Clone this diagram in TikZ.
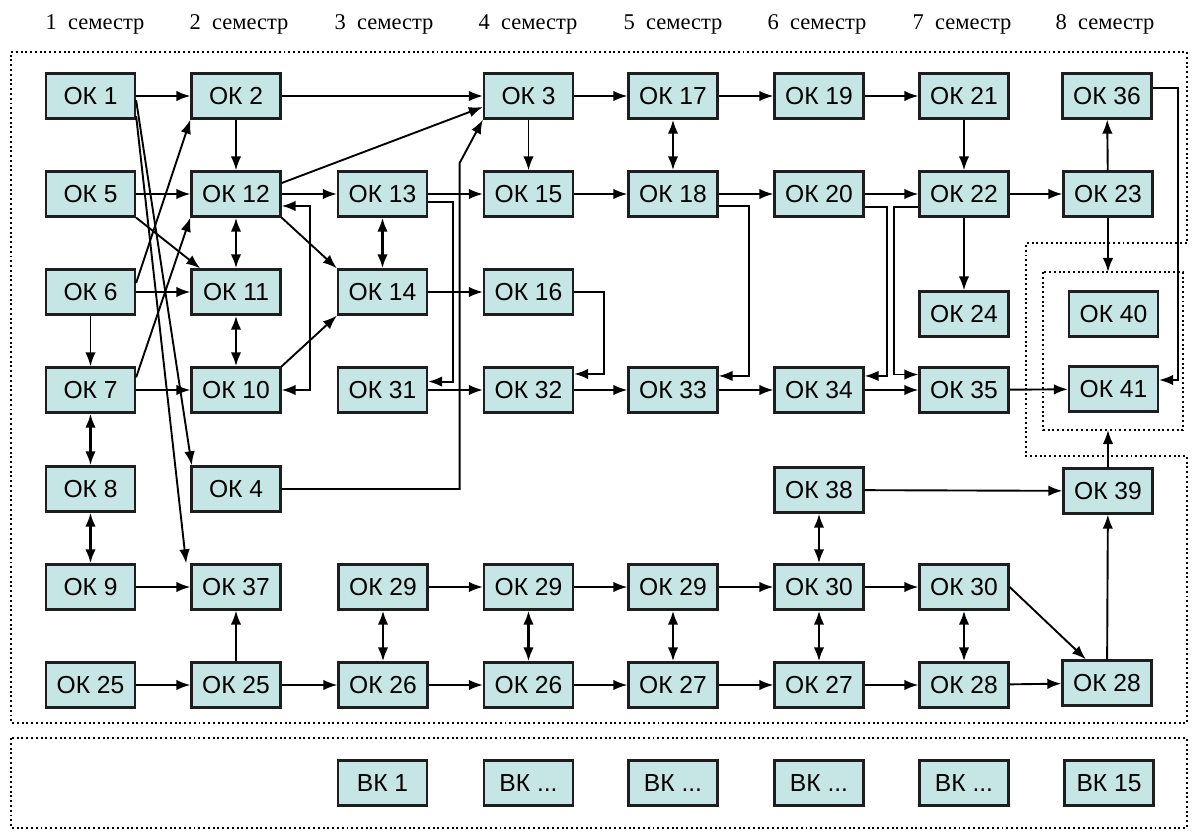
\documentclass[tikz,border=0pt]{standalone}
\usepackage{fontspec}
\setmainfont{Liberation Serif}
\newfontfamily\boxfont{Liberation Sans}
\usetikzlibrary{arrows.meta}
\definecolor{okfill}{RGB}{198,229,229}
\definecolor{okline}{RGB}{30,30,30}
\newcommand\vkdots{...}

\begin{document}
\begin{tikzpicture}
[x=0.025cm,y=-0.025cm,%
  >={Latex[length=10pt,width=7.5pt]},%
  box/.style={draw=okline,fill=okfill,line width=1.6pt,inner sep=0pt,
    minimum width=2.225cm,minimum height=1.125cm,
    font=\boxfont\fontsize{17.5}{19}\selectfont},%
  link/.style={->,line width=1.35pt},%
  both/.style={<->,line width=1.8pt},%
  dotframe/.style={line width=1.4pt,dash pattern=on 1.4pt off 2pt}]
\useasboundingbox (0,0) rectangle (1192,835);
\foreach \i/\x in {1/95,2/239,3/384,4/528,5/673,6/817,7/962,8/1105}
  \node[anchor=base,font=\fontsize{16}{18}\selectfont] (sem\i) at (\x,29) {\i\hspace{0.5em}семестр};
\draw[dotframe] (11,52) -- (1187,52) -- (1187,243) -- (1026,243) -- (1026,456)
  -- (1187,456) -- (1187,723) -- (11,723) -- cycle;
\draw[dotframe] (1043,272) coordinate (fnw) rectangle (1183,430) coordinate (fse);
\draw[dotframe] (11,738) rectangle (1187,828);
\foreach \name/\lab/\x/\y in {ok1/1/90.5/96, ok2/2/236/96, ok3/3/528.5/96,
    ok17/17/673/96, ok19/19/819/96, ok21/21/964/96, ok36/36/1107/96,
    ok5/5/90.5/194, ok12/12/236/194, ok13/13/382.5/194, ok15/15/528.5/194,
    ok18/18/673/194, ok20/20/819/194, ok22/22/964/194, ok23/23/1108/194,
    ok6/6/90.5/292, ok11/11/236/292, ok14/14/382.5/292, ok16/16/528.5/292,
    ok24/24/964/314, ok40/40/1113.5/314,
    ok7/7/90.5/390, ok10/10/236/390, ok31/31/382.5/390, ok32/32/528.5/390,
    ok33/33/673/390, ok34/34/819/390, ok35/35/964/390, ok41/41/1113.5/389,
    ok8/8/90.5/489, ok4/4/236/489, ok38/38/819/490, ok39/39/1108/491,
    ok9/9/90.5/587, ok37/37/236/587, ok29a/29/383/587, ok29b/29/528.5/587,
    ok29c/29/673/587, ok30a/30/819/587, ok30b/30/964/587,
    ok25a/25/90.5/685, ok25b/25/236/685, ok26a/26/383/685, ok26b/26/528.5/685,
    ok27a/27/673/685, ok27b/27/819/685, ok28a/28/964/685, ok28b/28/1107/683}
  \node[box] (\name) at (\x,\y) {ОК \lab};
\foreach \name/\lab/\x in {vk1/1/382.5, vk2/\vkdots/528.5, vk3/\vkdots/673,
    vk4/\vkdots/819, vk5/\vkdots/964, vk15/15/1109}
  \node[box] (\name) at (\x,783) {ВК \lab};
\foreach \a/\b in {ok1/ok2, ok2/ok3, ok3/ok17, ok17/ok19, ok19/ok21, ok2/ok12,
    ok3/ok15, ok21/ok22, ok23/ok36, ok5/ok12, ok12/ok13, ok13/ok15, ok15/ok18,
    ok18/ok20, ok20/ok22, ok22/ok23, ok6/ok11, ok6/ok7, ok14/ok16, ok22/ok24,
    ok7/ok10, ok31/ok32, ok32/ok33, ok33/ok34, ok34/ok35, ok35/ok41, ok38/ok39,
    ok9/ok37, ok25b/ok37, ok29a/ok29b, ok29b/ok29c, ok29c/ok30a, ok30a/ok30b,
    ok28b/ok39, ok25a/ok25b, ok25b/ok26a, ok26a/ok26b, ok26b/ok27a,
    ok27a/ok27b, ok27b/ok28a, ok28a/ok28b}
  \draw[link] (\a) -- (\b);
\foreach \a/\b in {ok17/ok18, ok12/ok11, ok11/ok10, ok13/ok14, ok7/ok8, ok8/ok9,
    ok38/ok30a, ok29a/ok26a, ok29b/ok26b, ok29c/ok27a, ok30a/ok27b, ok30b/ok28a}
  \draw[both] (\a) -- (\b);
\draw[link] ([yshift=5.7pt]ok36.east) -- ++(25,0) |- ([yshift=6.4pt]ok41.east);
\draw[link] ([yshift=7.8pt]ok12.east) -- ([yshift=-7.8pt]ok3.west);
\draw[link] (ok12.south east) -- (ok14.north west);
\draw[link] (ok10.north east) -- (ok14.south west);
\draw[link,<->] ([yshift=-8.5pt]ok12.east) -- ++(28,0) |- (ok10.east);
\draw[link] ([yshift=-5.7pt]ok13.east) -- ++(25,0) |- ([yshift=6pt]ok31.east);
\draw[link] (ok4.east) -- ++(178,0) -- ++(0,-326) -- (ok3.south west);
\draw[link] ([yshift=6.4pt]ok6.east) -- (ok2.south west);
\draw[link] ([yshift=9pt]ok7.east) -- (ok12.south west);
\draw[link] (ok5.south east) -- ([xshift=7pt]ok11.north west);
\draw[link] (ok16.east) -- ++(30,0) |- ([yshift=11.4pt]ok32.east);
\draw[link] ([yshift=-8.5pt]ok18.east) -- ++(30,0) |- ([yshift=10pt]ok33.east);
\draw[link] ([yshift=-9pt]ok20.east) -- ++(22,0) |- ([yshift=10pt]ok34.east);
\draw[link] ([yshift=-9pt]ok22.west) -- ++(-24,0) |- ([yshift=11pt]ok35.west);
\draw[link] (ok23) -- (ok23 |- fnw);
\draw[link] (ok39) -- (ok39 |- fse);
\draw[link] ([yshift=-3pt]ok1.east) -- ([xshift=1pt]ok4.north west);
\draw[link] ([yshift=2.5pt]ok1.south east) -- ([xshift=-3pt]ok37.north west);
\draw[link] (ok30b.east) -- ([xshift=-15pt]ok28b.north);
\end{tikzpicture}
\end{document}
